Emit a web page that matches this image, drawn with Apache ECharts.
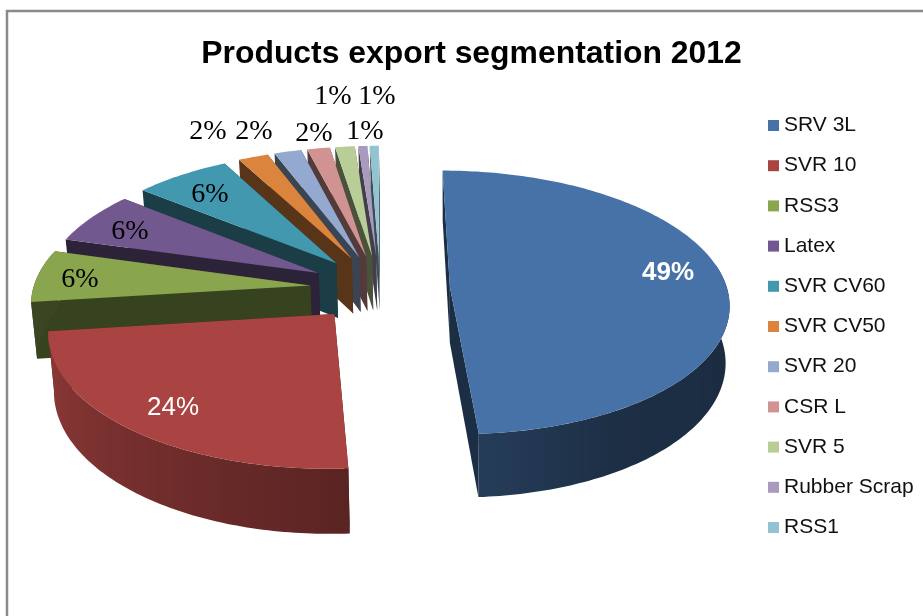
<!DOCTYPE html>
<html>
<head>
<meta charset="utf-8">
<style>html,body{margin:0;padding:0;background:#fff}#chart{width:923px;height:616px}</style>
<script src="https://cdn.jsdelivr.net/npm/echarts@6/dist/echarts.min.js"></script>
</head>
<body>
<div id="chart"></div>
<script>
// Product names, in legend order
const products = ['SRV 3L','SVR 10','RSS3','Latex','SVR CV60','SVR CV50','SVR 20','CSR L','SVR 5','Rubber Scrap','RSS1'];
// Export share of each product in percent; the labels show these rounded to whole percent
const shares = [49.0, 24.0, 6.4, 6.4, 6.4, 2.0, 1.8, 1.5, 1.3, 0.6, 0.6];
const sliceColors = ['#4672A8','#A94442','#89A54E','#71588F','#4198AF','#DB843D','#93A9CF','#D19392','#B9CD96','#A99BBD','#92C3D3'];

// Where each percentage label sits, and how it is set
const labelSpots = [[668,273],[173,408],[80,280],[130,232],[210,195],[208,132],[254,132],[314,134],[365,132],[333,97],[377,97]];
const labelFonts = ['bold 26px "Liberation Sans"','26px "Liberation Sans"'];
const labelSerif = '28px "Liberation Serif"';

// Perspective view of the tilted, exploded pie
const view = {cx:380, cy:288, radius:277, explode:70, camera:2370, squash:0.47, thick:56, baseCx:450, baseShrink:0.9856};
// Brightness of the outer wall against the direction it faces (degrees clockwise from the back)
const wallLight = [[80,0.38],[150,0.41],[176,0.53],[263,0.85],[265,0.42],[290,0.42]];

const total = shares.reduce((a,b)=>a+b,0);
const rad = d => d*Math.PI/180;

function tint(hex,k){
  const n = parseInt(hex.slice(1),16);
  const c = [n>>16,(n>>8)&255,n&255].map(v=>Math.round(v*k));
  return 'rgb('+c.join(',')+')';
}
function lightAt(a){
  for(let i=1;i<wallLight.length;i++){
    if(a<=wallLight[i][0]){
      const p=wallLight[i-1],q=wallLight[i];
      return p[1]+(q[1]-p[1])*(a-p[0])/(q[0]-p[0]);
    }
  }
  return wallLight[wallLight.length-1][1];
}
// Ground point (right, toward viewer) to screen; base=true gives the underside
function project(X,Z,base){
  const f=view.camera/(view.camera-Z);
  const x=view.cx+X*f, y=view.cy+view.squash*Z*f;
  if(base) return [view.baseCx+(x-view.baseCx)*view.baseShrink, y+view.thick*f];
  return [x, y];
}
function rimPoint(mid,a,r,base){
  const X=view.explode*Math.sin(rad(mid))+r*Math.sin(rad(a));
  const Z=-view.explode*Math.cos(rad(mid))-r*Math.cos(rad(a));
  return project(X,Z,base);
}
function arcAngles(a0,a1){
  const out=[];
  const n=Math.max(2,Math.ceil((a1-a0)));
  for(let i=0;i<=n;i++) out.push(a0+(a1-a0)*i/n);
  return out;
}

function drawSlice(params,api){
  const share=api.value(0), before=api.value(1), color=api.visual('color');
  const a0=before/total*360, a1=(before+share)/total*360, mid=(a0+a1)/2;
  const R=view.radius;
  const apexTop=rimPoint(mid,0,0,false), apexBase=rimPoint(mid,0,0,true);
  const wall=tint(color,0.40);
  const kids=[];
  [a0,a1].forEach(a=>{
    kids.push({type:'polygon',shape:{points:[apexTop,rimPoint(mid,a,R,false),rimPoint(mid,a,R,true),apexBase]},style:{fill:wall}});
  });
  const f0=Math.max(a0,80), f1=Math.min(a1,285);
  if(f1>f0){
    const angs=arcAngles(f0,f1);
    const top=angs.map(a=>rimPoint(mid,a,R,false));
    const bot=angs.map(a=>rimPoint(mid,a,R,true)).reverse();
    const xs=top.map(p=>p[0]);
    const xMin=Math.min(...xs), xMax=Math.max(...xs);
    const stops=angs.map((a,i)=>({offset:(xs[i]-xMin)/Math.max(1,xMax-xMin),color:tint(color,lightAt(a))}))
      .sort((p,q)=>p.offset-q.offset);
    kids.push({type:'polygon',shape:{points:top.concat(bot)},
      style:{fill:new echarts.graphic.LinearGradient(xMin,0,xMax,0,stops,true)}});
  }
  const face=[apexTop].concat(arcAngles(a0,a1).map(a=>rimPoint(mid,a,R,false)));
  kids.push({type:'polygon',shape:{points:face},style:{fill:color}});
  return {type:'group',children:kids};
}

function drawLabel(params,api){
  const i=params.dataIndex;
  const text=Math.round(api.value(0))+'%';
  const font=i<2?labelFonts[i]:labelSerif;
  return {type:'text',x:labelSpots[i][0],y:labelSpots[i][1],
    style:{text:text,font:font,fill:i<2?'#fff':'#000',align:'center',verticalAlign:'middle'}};
}

// Slices are painted from the back of the pie to the front
let running=0;
const sliceSeries=shares.map((s,i)=>{
  const item={type:'custom',name:products[i],coordinateSystem:'none',renderItem:drawSlice,silent:true,
    itemStyle:{color:sliceColors[i]},data:[[s,running]],z:2};
  running+=s;
  return item;
}).reverse();

const chart=echarts.init(document.getElementById('chart'),null,{renderer:'canvas'});
chart.setOption({
  animation:false,
  backgroundColor:'#fff',
  title:{text:'Products export segmentation 2012',left:466.5,top:33,textAlign:'center',
    textStyle:{fontFamily:'Liberation Sans',fontWeight:'bold',fontSize:31.9,color:'#000'}},
  legend:{data:products,orient:'vertical',left:763,top:110,itemWidth:11,itemHeight:11,itemGap:19.2,icon:'rect',
    selectedMode:false,textStyle:{fontFamily:'Liberation Sans',fontSize:21,color:'#111'}},
  graphic:[{type:'rect',shape:{x:7,y:11,width:930,height:620},style:{fill:'none',stroke:'#8a8a8a',lineWidth:2.5},z:0}],
  series:sliceSeries.concat([{type:'custom',name:'labels',coordinateSystem:'none',renderItem:drawLabel,silent:true,
    data:shares.map(s=>[s]),z:5}])
});
</script>
</body>
</html>
